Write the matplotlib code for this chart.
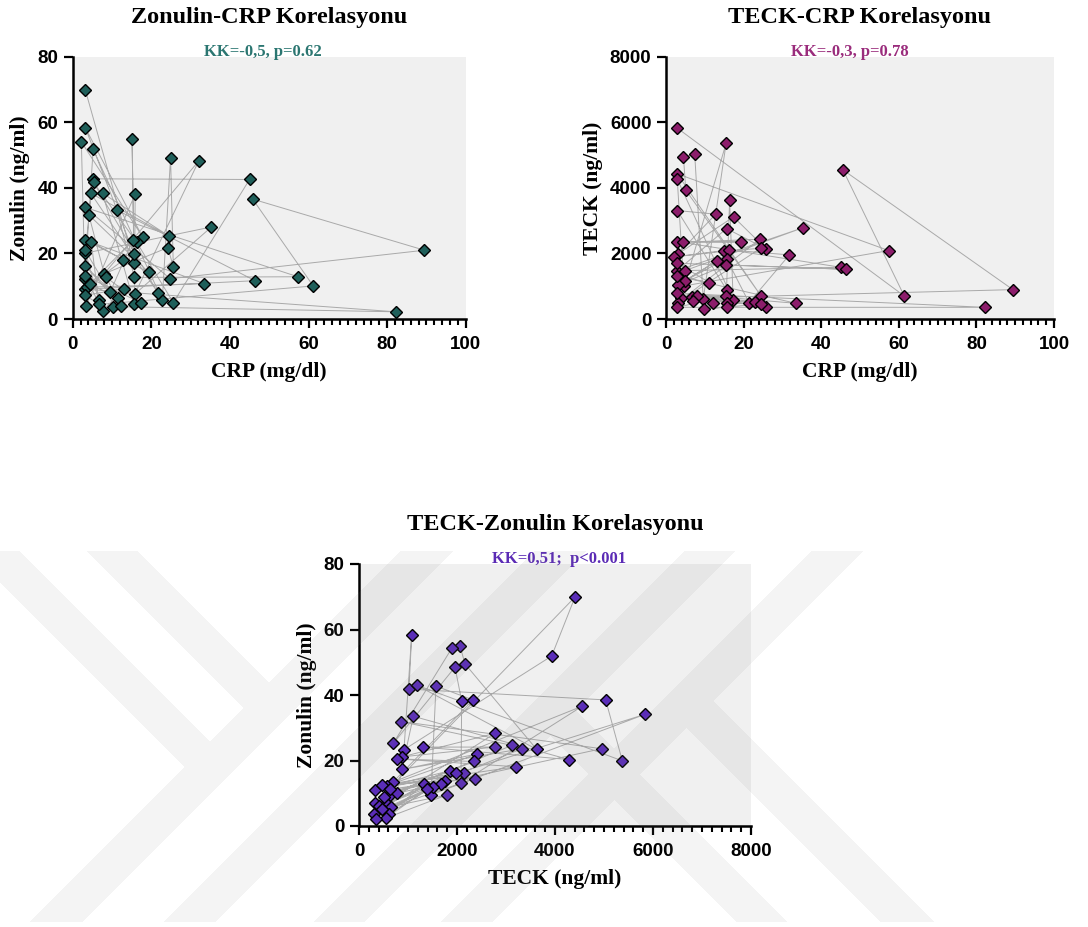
import numpy as np
import matplotlib
matplotlib.use('Agg')
import matplotlib.pyplot as plt
from matplotlib.ticker import MultipleLocator

plt.rcParams['font.family'] = ['Liberation Sans', 'DejaVu Sans']
plt.rcParams['font.weight'] = 'bold'

# Zonulin-CRP (points in the order they are joined)
zc_crp = [3.2, 15.6, 15.1, 15.6, 3.2, 17.8, 2.2, 3.1, 5.2, 22.8, 24.9, 25.6, 24.2, 8.0, 32.1, 15.8,
          35.3, 3.2, 5.1, 45.0, 25.6, 16.3, 5.3, 21.7, 4.6, 24.4, 7.6, 15.7, 15.9, 3.4, 61.2, 45.8,
          89.5, 24.8, 3.1, 57.3, 15.7, 11.2, 46.4, 3.2, 82.2, 10.2, 4.1, 19.4, 3.2, 33.5, 3.6, 12.9,
          4.7, 6.6, 3.1, 9.5, 15.3, 4.4, 11.6, 3.2, 12.4, 8.5, 17.3, 3.2, 7.6, 13.1, 3.2, 6.6]
zc_zonulin = [70.0, 17.0, 54.9, 19.9, 58.4, 25.0, 54.1, 12.1, 51.8, 5.8, 49.3, 16.0, 21.8, 13.8, 48.3, 7.6,
              28.1, 20.1, 42.8, 42.6, 5.0, 23.4, 41.7, 8.0, 38.4, 25.4, 38.4, 4.6, 38.1, 4.1, 10.1, 36.6,
              21.0, 12.3, 34.1, 12.9, 12.7, 33.3, 11.7, 9.1, 2.2, 3.8, 31.8, 14.2, 24.1, 10.8, 9.7, 18.0,
              23.6, 5.8, 21.1, 8.1, 24.0, 10.7, 6.3, 16.2, 4.0, 12.7, 5.0, 13.1, 2.5, 9.3, 7.2, 4.6]

# TECK-CRP
tc_crp = [2.9, 61.4, 45.6, 89.4, 3.8, 15.5, 9.6, 7.4, 4.5, 5.1, 24.5, 2.9, 57.4, 4.6, 2.9, 17.3,
          16.4, 15.6, 2.9, 12.8, 3.1, 17.4, 25.8, 15.6, 2.9, 35.2, 4.9, 45.0, 2.9, 19.3, 4.5, 24.2,
          3.0, 24.4, 14.9, 2.1, 16.2, 31.8, 21.4, 15.6, 4.8, 13.2, 3.2, 15.5, 46.4, 2.9, 11.2, 2.9,
          33.5, 2.9, 82.1, 2.9, 15.5, 6.6, 25.9, 7.9, 22.9, 7.0, 12.2, 15.6, 24.6, 9.9, 15.6]
tc_teck = [5830, 703, 4555, 897, 632, 5371, 611, 5034, 4943, 3934, 703, 4433, 2089, 1009, 4270, 581,
           3638, 897, 3312, 3200, 1987, 3118, 2140, 2762, 1478, 2782, 1478, 1580, 2364, 2354, 2344, 2436,
           499, 2161, 2069, 1896, 2110, 1957, 499, 1845, 1162, 1783, 1040, 1651, 1518, 1702, 1111, 1315,
           479, 785, 357, 357, 703, 683, 377, 703, 530, 540, 479, 479, 459, 306, 367]

# TECK-Zonulin
tz_teck = [332, 4408, 3932, 918, 1075, 1020, 5034, 5374, 1177, 3626, 2163, 2061, 1891, 701, 1959, 2095,
           2082, 4558, 694, 2327, 1571, 1469, 5837, 624, 3122, 857, 4952, 769, 1109, 4279, 1299, 2769,
           871, 2776, 549, 3327, 884, 2415, 565, 3204, 769, 2354, 502, 1857, 327, 2143, 651, 2367,
           463, 1980, 414, 1762, 633, 1680, 502, 1517, 610, 1327, 461, 1796, 549, 1381, 298, 353]
tz_zonulin = [7.0, 69.9, 51.9, 23.3, 58.3, 41.8, 38.5, 19.9, 43.0, 23.4, 49.5, 55.0, 54.2, 25.3, 48.5, 38.2,
              13.1, 36.6, 13.4, 38.5, 42.7, 9.5, 34.1, 9.6, 24.6, 31.9, 23.6, 10.0, 33.5, 20.3, 24.1, 24.1,
              21.1, 28.3, 7.1, 23.6, 17.3, 22.0, 12.3, 18.1, 20.5, 19.7, 8.9, 16.9, 11.1, 16.3, 5.8, 14.5,
              12.4, 16.1, 6.0, 13.7, 11.2, 12.8, 4.6, 12.0, 3.8, 12.8, 5.3, 9.5, 2.4, 11.2, 3.8, 2.2]

W, H = 1088, 927
SERIF = ['Liberation Serif', 'DejaVu Serif']


def scatter_panel(ax, x, y, fill, xmax, xmajor, xminor, ymax, ymajor,
                  xlabel, ylabel, title, kk, kk_color, kk_x):
    ax.set_facecolor('#f0f0f0')
    ax.plot(x, y, '-', color='#a9a9a9', lw=0.7, zorder=2)
    ax.plot(x, y, 'D', ms=6.0, mfc=fill, mec='black', mew=1.0, zorder=3, clip_on=False)
    ax.set_xlim(0, xmax)
    ax.set_ylim(0, ymax)
    for s in ['top', 'right']:
        ax.spines[s].set_visible(False)
    for s in ['left', 'bottom']:
        ax.spines[s].set_linewidth(1.8)
    ax.xaxis.set_major_locator(MultipleLocator(xmajor))
    ax.xaxis.set_minor_locator(MultipleLocator(xminor))
    ax.yaxis.set_major_locator(MultipleLocator(ymajor))
    ax.tick_params(which='major', length=6.5, width=1.6, labelsize=13.5)
    ax.tick_params(axis='x', which='major', pad=6)
    ax.tick_params(axis='y', which='major', pad=4)
    ax.tick_params(axis='x', which='minor', length=4, width=1.5)
    ax.set_xlabel(xlabel, family=SERIF, fontsize=15.5, fontweight='bold', labelpad=6)
    ax.set_ylabel(ylabel, family=SERIF, fontsize=15.5, fontweight='bold', labelpad=5)
    ax.text(0.5, 1.13, title, transform=ax.transAxes, ha='center', va='baseline',
            family=SERIF, fontsize=17.5, fontweight='bold')
    ax.text(kk_x, 1.004, kk, transform=ax.transAxes, ha='center', va='baseline',
            family=SERIF, fontsize=12, fontweight='bold', color=kk_color)


fig = plt.figure(figsize=(W / 100, H / 100), dpi=100)

ax1 = fig.add_axes([72.7 / W, 1 - 319 / H, 393 / W, 262 / H])
scatter_panel(ax1, zc_crp, zc_zonulin, '#1f5f5a', 100, 20, 2, 80, 20,
              'CRP (mg/dl)', 'Zonulin (ng/ml)', 'Zonulin-CRP Korelasyonu',
              'KK=-0,5, p=0.62', '#2b7671', 0.484)

ax2 = fig.add_axes([666 / W, 1 - 319 / H, 388 / W, 262 / H])
scatter_panel(ax2, tc_crp, tc_teck, '#8c1d6b', 100, 20, 2, 8000, 2000,
              'CRP (mg/dl)', 'TECK (ng/ml)', 'TECK-CRP Korelasyonu',
              'KK=-0,3, p=0.78', '#9a2c7c', 0.474)

ax3 = fig.add_axes([359 / W, 1 - 826 / H, 392 / W, 262 / H])
scatter_panel(ax3, tz_teck, tz_zonulin, '#5a2db8', 8000, 2000, 200, 80, 20,
              'TECK (ng/ml)', 'Zonulin (ng/ml)', 'TECK-Zonulin Korelasyonu',
              'KK=0,51;  p<0.001', '#5b2bb5', 0.51)

# faint chevron watermark over the lower half
Y, X = np.mgrid[0:H, 0:W]
S = X - Y
P = X + Y
band = np.zeros((H, W), dtype=bool)
band |= (P >= 951) & (P <= 1003)
band |= (S >= -582) & (S <= -532) & (P <= 1003)
band |= (S >= -464) & (S <= -414) & (P <= 1003)
band |= (P >= 1085) & (P <= 1136)
band |= (P >= 1235) & (P <= 1285)
band |= (P >= 1362) & (P <= 1413)
band |= (S >= -185) & (S <= -135) & (P >= 1235)
band |= (S >= -41) & (S <= 12) & (P >= 1362)
band &= (Y >= 551) & (Y <= 921)

rgba = np.zeros((H, W, 4))
rgba[..., :3] = 0.5
rgba[..., 3] = band * 0.085
wm = fig.add_axes([0, 0, 1, 1], zorder=10)
wm.imshow(rgba, extent=[0, W, H, 0], aspect='auto', interpolation='nearest')
wm.set_xlim(0, W)
wm.set_ylim(H, 0)
wm.axis('off')

fig.savefig('out.png', dpi=100, facecolor='white')
